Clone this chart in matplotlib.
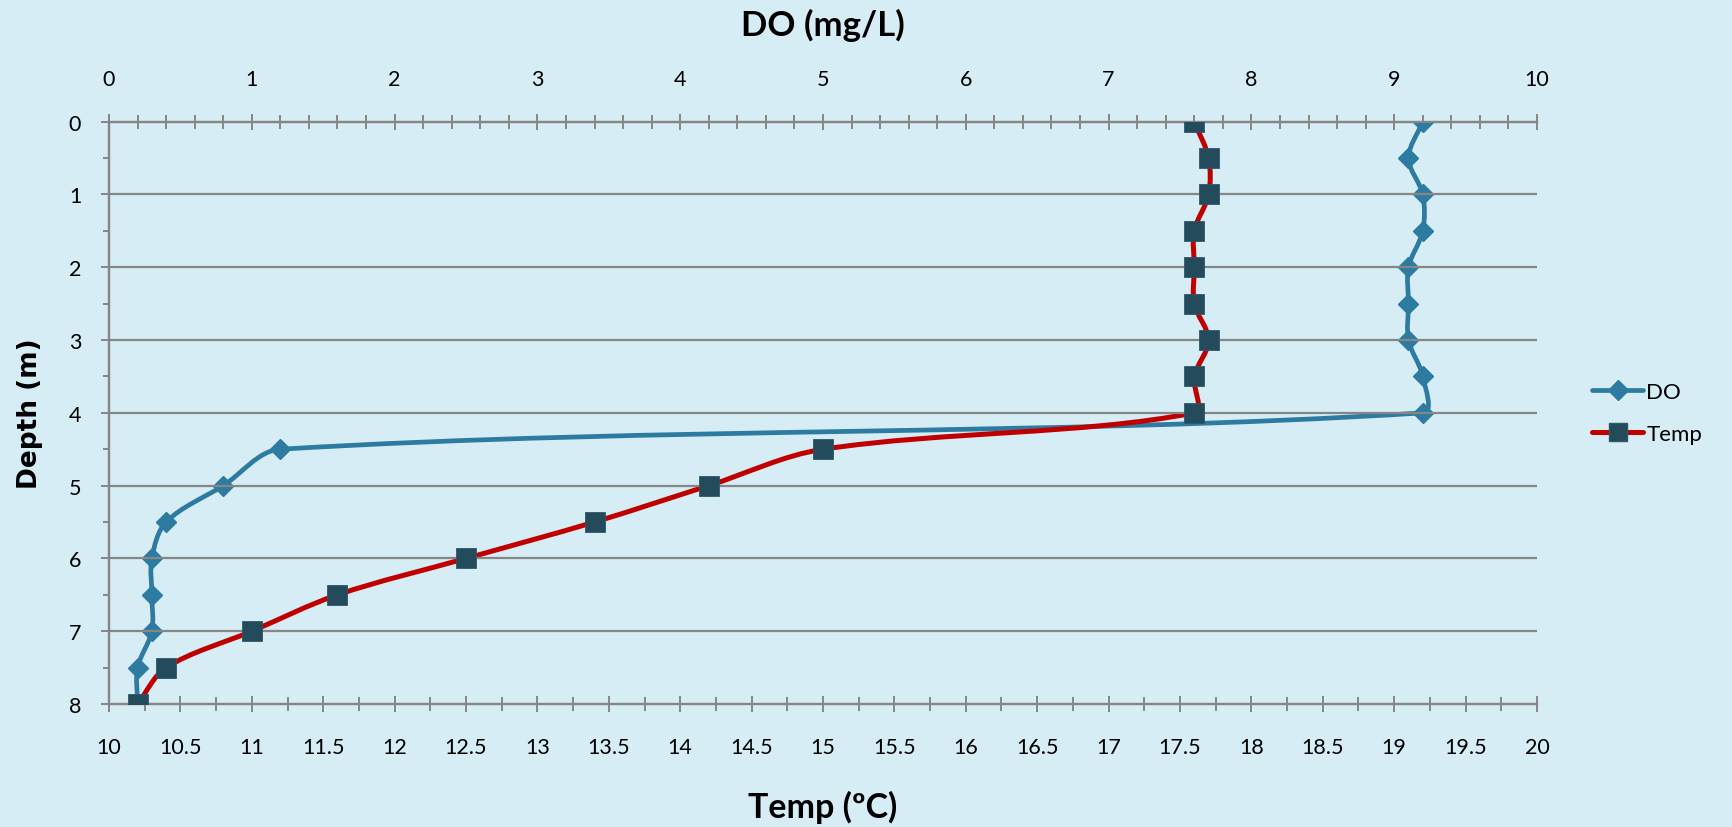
import numpy as np
import matplotlib
matplotlib.use("Agg")
import matplotlib.pyplot as plt
from matplotlib.path import Path
from matplotlib.patches import PathPatch
from matplotlib.lines import Line2D
from matplotlib.ticker import MultipleLocator
from matplotlib.font_manager import FontProperties

# ---------------- data ----------------
depth = [0, 0.5, 1, 1.5, 2, 2.5, 3, 3.5, 4, 4.5, 5, 5.5, 6, 6.5, 7, 7.5, 8]
do_mgL = [9.2, 9.1, 9.2, 9.2, 9.1, 9.1, 9.1, 9.2, 9.2, 1.2, 0.8, 0.4, 0.3, 0.3, 0.3, 0.2, 0.2]
temp_c = [17.6, 17.7, 17.7, 17.6, 17.6, 17.6, 17.7, 17.6, 17.6, 15.0, 14.2, 13.4, 12.5, 11.6, 11.0, 10.4, 10.2]
series_names = ["DO", "Temp"]

BG = "#D6EDF5"
GRID = "#868686"
DO_COL = "#2E7BA1"
TEMP_LINE = "#C00000"
TEMP_MARK = "#244B5C"
TXT = "#000000"

FONT = "Lato"
plt.rcParams["font.family"] = [FONT, "DejaVu Sans"]

W, H = 1733, 828
fig = plt.figure(figsize=(W / 100, H / 100), dpi=100, facecolor=BG)
L, R, T, B = 109, 1537, 122.7, 705
ax = fig.add_axes([L / W, 1 - B / H, (R - L) / W, (B - T) / H])
ax.set_facecolor(BG)
ax.set_xlim(10, 20)
ax.set_ylim(8, 0)
ax2 = ax.twiny()
ax2.set_xlim(0, 10)
ax2.set_ylim(8, 0)

px_x = (R - L) / 10.0
px_y = (B - T) / 8.0


def smooth_path(xs, ys):
    """Excel-like smoothed line as cubic Bezier path (control points weighted by display distance)."""
    P = np.column_stack([np.asarray(xs, float) * px_x, np.asarray(ys, float) * px_y])
    n = len(P)
    verts = [P[0]]
    codes = [Path.MOVETO]
    for i in range(n - 1):
        p0 = P[i - 1] if i > 0 else P[i]
        p1 = P[i]
        p2 = P[i + 1]
        p3 = P[i + 2] if i + 2 < n else P[i + 1]
        d01 = np.hypot(*(p1 - p0))
        d12 = np.hypot(*(p2 - p1))
        d23 = np.hypot(*(p3 - p2))
        f1 = d12 / (d01 + d12) if (d01 + d12) > 0 else 0
        f2 = d12 / (d12 + d23) if (d12 + d23) > 0 else 0
        c1 = p1 + (p2 - p0) * f1 / 3.0
        c2 = p2 - (p3 - p1) * f2 / 3.0
        verts += [c1, c2, p2]
        codes += [Path.CURVE4] * 3
    V = np.array(verts)
    V[:, 0] /= px_x
    V[:, 1] /= px_y
    return Path(V, codes)


# gridlines
for d in range(1, 8):
    ax.axhline(d, color=GRID, lw=1.6, zorder=1)

# DO series (top axis)
ax2.add_patch(PathPatch(smooth_path(do_mgL, depth), fill=False, edgecolor=DO_COL,
                        lw=3.4, capstyle="round", joinstyle="round", zorder=3))
ax2.plot(do_mgL, depth, linestyle="none", marker="D", markersize=10.5,
         color=DO_COL, markeredgecolor=DO_COL, zorder=4)

# Temp series (bottom axis) – drawn above DO
ax2.add_patch(PathPatch(
    smooth_path(np.asarray(temp_c) - 10.0, depth), fill=False, edgecolor=TEMP_LINE,
    lw=3.6, capstyle="round", joinstyle="round", zorder=5))
ax.set_zorder(ax2.get_zorder() + 1)
ax.patch.set_visible(False)
ax.plot(temp_c, depth, linestyle="none", marker="s", markersize=15,
        color=TEMP_MARK, markeredgecolor="#2F5869", markeredgewidth=0.6, zorder=6)

# spines
for a in (ax, ax2):
    for s in a.spines.values():
        s.set_color(GRID)
        s.set_linewidth(1.6)
    a.spines["right"].set_visible(False)

TICK_FS = 15.5

# bottom axis ticks (Temp)
ax.xaxis.set_major_locator(MultipleLocator(0.5))
ax.xaxis.set_minor_locator(MultipleLocator(0.25))
ax.xaxis.set_major_formatter(matplotlib.ticker.FuncFormatter(lambda v, p: f"{v:g}"))
ax.tick_params(axis="x", which="both", direction="inout", color=GRID, width=1.4,
               labelsize=TICK_FS, labelcolor=TXT, pad=18)
ax.tick_params(axis="x", which="major", length=11)
ax.tick_params(axis="x", which="minor", length=10)

# left axis ticks (Depth)
ax.yaxis.set_major_locator(MultipleLocator(1))
ax.yaxis.set_minor_locator(MultipleLocator(0.5))
ax.tick_params(axis="y", which="both", direction="out", color=GRID, width=1.4,
               labelsize=TICK_FS, labelcolor=TXT, pad=14)
ax.tick_params(axis="y", which="major", length=6)
ax.tick_params(axis="y", which="minor", length=4.5)
ax.tick_params(axis="y", right=False, which="both")
ax2.tick_params(axis="y", left=False, right=False, labelleft=False, labelright=False, which="both")

# top axis ticks (DO)
ax2.xaxis.set_major_locator(MultipleLocator(1))
ax2.xaxis.set_minor_locator(MultipleLocator(0.2))
ax2.tick_params(axis="x", which="both", direction="inout", color=GRID, width=1.4,
                labelsize=TICK_FS, labelcolor=TXT, pad=18)
ax2.tick_params(axis="x", which="major", length=11)
ax2.tick_params(axis="x", which="minor", length=10)

# axis titles
fig.text(823 / W, 1 - 25 / H, "DO (mg/L)", ha="center", va="center",
         fontsize=25, fontweight="bold", color=TXT)
fig.text(823 / W, 1 - 807 / H, "Temp (ºC)", ha="center", va="center",
         fontsize=24.5, fontweight="bold", color=TXT)
fig.text(30 / W, 1 - 414 / H, "Depth (m)", ha="center", va="center", rotation=90,
         color=TXT, fontproperties=FontProperties(family="DejaVu Sans", weight="bold", size=19))

# legend
handles = [
    Line2D([], [], color=DO_COL, lw=3.4, marker="D", markersize=10.5,
           markerfacecolor=DO_COL, markeredgecolor=DO_COL, solid_capstyle="round"),
    Line2D([], [], color=TEMP_LINE, lw=3.6, marker="s", markersize=13,
           markerfacecolor=TEMP_MARK, markeredgecolor="#2F5869", solid_capstyle="round"),
]
fig.legend(handles, series_names, loc="center left", bbox_to_anchor=(1572 / W, 1 - 414 / H),
           frameon=False, fontsize=16, handlelength=2.3, handletextpad=0.15,
           labelspacing=1.0, labelcolor=TXT)

fig.savefig("out.png", dpi=100, facecolor=BG)
